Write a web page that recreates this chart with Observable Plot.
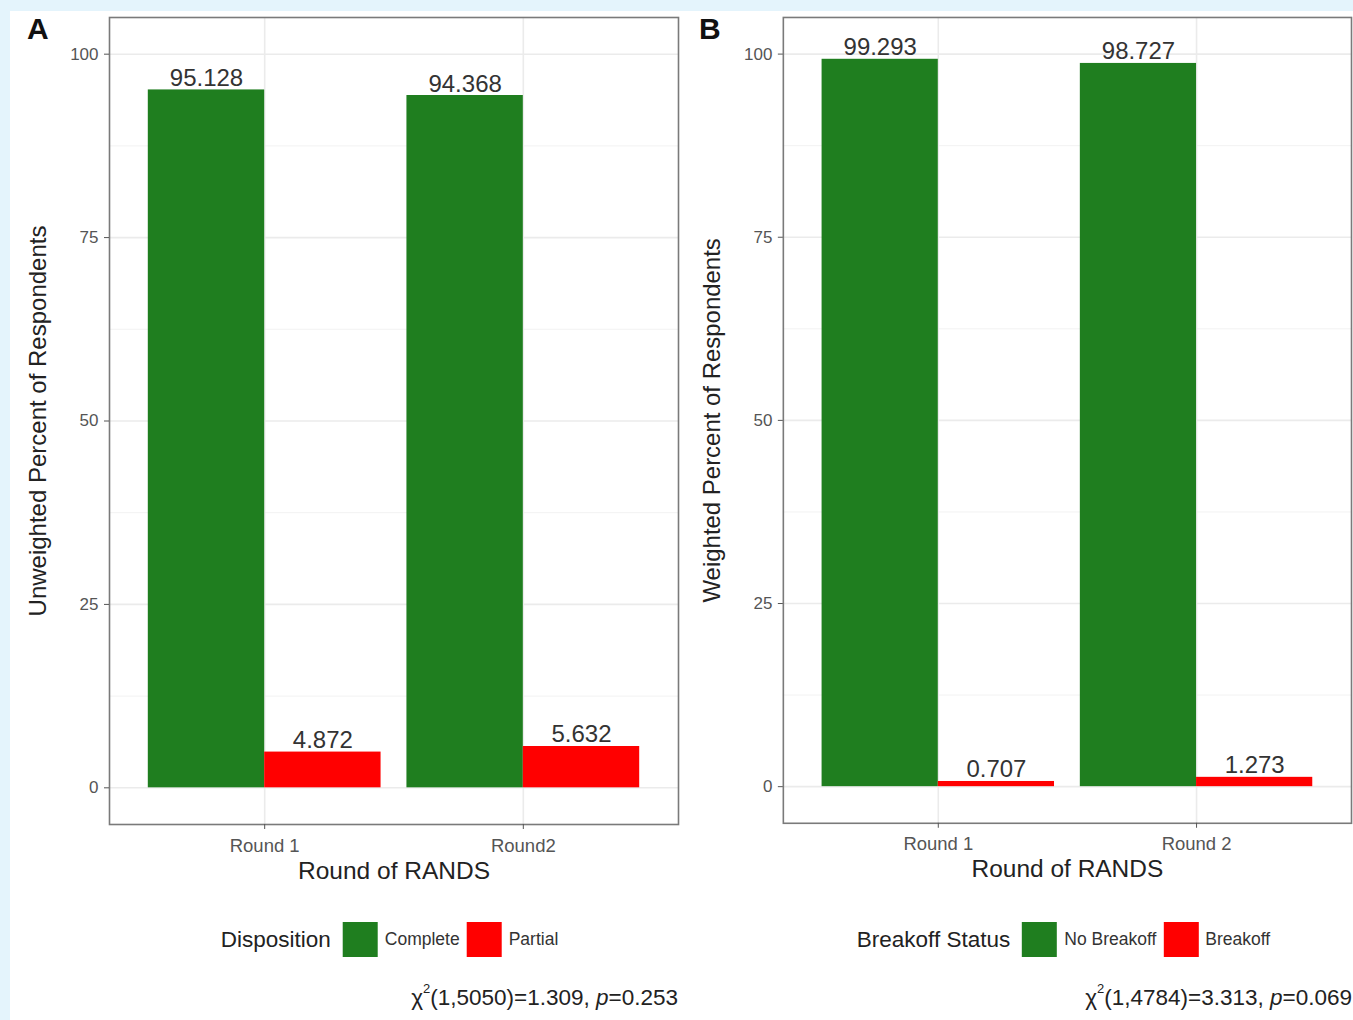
<!DOCTYPE html>
<html>
<head>
<meta charset="utf-8">
<script src="https://cdn.jsdelivr.net/npm/d3@7"></script>
<script src="https://cdn.jsdelivr.net/npm/@observablehq/plot@0.6"></script>
<style>
  html, body { margin: 0; padding: 0; }
  body { width: 1353px; height: 1020px; background: #e4f4fc; position: relative; overflow: hidden;
         font-family: "Liberation Sans", Arial, Helvetica, sans-serif; }
  #sheet { position: absolute; left: 10px; top: 11px; right: 0; bottom: 0; background: #ffffff; }
  .panel { position: absolute; top: 0; }
  .tag { position: absolute; top: 12px; font-size: 30px; font-weight: bold; color: #111; }
  .legend { position: absolute; top: 922px; display: flex; align-items: center; transform: translateX(-50%); white-space: nowrap; }
  .legend .ttl { font-size: 22.5px; color: #222; margin-right: 12px; }
  .legend .key { width: 35px; height: 35px; margin-right: 7px; }
  .legend .lab { font-size: 17.5px; color: #333; margin-right: 7px; }
  .note { position: absolute; top: 984px; font-size: 22.5px; color: #222; transform: translateX(-100%); white-space: nowrap; }
  .note sup { font-size: 13px; position: relative; top: -3px; }
</style>
</head>
<body>
<div id="sheet"></div>
<div id="root"></div>
<script>
// ---------- data ----------
const roundsA = ["Round 1", "Round2"];
const seriesA = ["Complete", "Partial"];
const completeA = [95.128, 94.368];
const partialA = [4.872, 5.632];

const roundsB = ["Round 1", "Round 2"];
const seriesB = ["No Breakoff", "Breakoff"];
const noBreakoffB = [99.293, 98.727];
const breakoffB = [0.707, 1.273];

const yTicks = [0, 25, 50, 75, 100];
const yMinor = [12.5, 37.5, 62.5, 87.5];

const GREEN = "#1f7e1f";
const RED = "#ff0000";
const FONT = "'Liberation Sans', Arial, Helvetica, sans-serif";

function rowsFor(rounds, series, valuesBySeries) {
  const rows = [];
  rounds.forEach((r, i) => {
    series.forEach((s, k) => {
      rows.push({round: r, pos: i + 1, k, series: s, value: valuesBySeries[k][i]});
    });
  });
  return rows;
}

const dodge = 0.9;

function panel(rounds, series, rows, yTitle, xTitle) {
  return Plot.plot({
    width: 680,
    height: 890,
    marginLeft: 109,
    marginRight: 2,
    marginTop: 17,
    marginBottom: 66,
    style: {fontFamily: FONT, background: "transparent", overflow: "visible"},
    x: {type: "linear", domain: [0.4, rounds.length + 0.6], label: null},
    y: {domain: [-5, 105], label: null},
    color: {domain: series, range: [GREEN, RED]},
    marks: [
      Plot.ruleY(yMinor, {stroke: "#f2f2f2", strokeWidth: 1}),
      Plot.ruleY(yTicks, {stroke: "#ebebeb", strokeWidth: 1.6}),
      Plot.ruleX(rounds.map((r, i) => i + 1), {stroke: "#ebebeb", strokeWidth: 1.6}),
      Plot.rectY(rows, {
        x1: d => d.pos - dodge / 2 + d.k * dodge / series.length,
        x2: d => d.pos - dodge / 2 + (d.k + 1) * dodge / series.length,
        y1: 0,
        y2: "value",
        fill: "series"
      }),
      Plot.text(rows, {
        x: d => d.pos - dodge / 2 + (d.k + 0.5) * dodge / series.length,
        y: "value",
        text: d => d3.format(".3f")(d.value),
        lineAnchor: "bottom",
        dy: -4,
        fontSize: 24,
        fill: "#333"
      }),
      Plot.frame({stroke: "#7a7a7a", strokeWidth: 1.6}),
      Plot.axisY({ticks: yTicks, tickSize: 5, tickPadding: 6, fontSize: 17, color: "#555", label: null}),
      Plot.axisX({ticks: rounds.map((r, i) => i + 1), tickFormat: v => rounds[v - 1], tickSize: 5, tickPadding: 9, fontSize: 18.5, color: "#555", label: null}),
      Plot.text([xTitle], {frameAnchor: "bottom", dy: 54, fontSize: 24.5, fill: "#222"}),
      Plot.text([yTitle], {frameAnchor: "left", textAnchor: "middle", dx: -71, rotate: -90, fontSize: 24, fill: "#222"})
    ]
  });
}

const root = document.getElementById("root");

function place(node, left) {
  const d = document.createElement("div");
  d.className = "panel";
  d.style.left = left + "px";
  d.appendChild(node);
  root.appendChild(d);
}

const rowsA = rowsFor(roundsA, seriesA, [completeA, partialA]);
const rowsB = rowsFor(roundsB, seriesB, [noBreakoffB, breakoffB]);

place(panel(roundsA, seriesA, rowsA, "Unweighted Percent of Respondents", "Round of RANDS"), 0);
place(panel(roundsB, seriesB, rowsB, "Weighted Percent of Respondents", "Round of RANDS"), 674);

function tag(text, left) {
  const t = document.createElement("div");
  t.className = "tag";
  t.style.left = left + "px";
  t.textContent = text;
  root.appendChild(t);
}
tag("A", 27);
tag("B", 699);

function legend(title, series, colors, center) {
  const l = document.createElement("div");
  l.className = "legend";
  l.style.left = center + "px";
  const t = document.createElement("span");
  t.className = "ttl";
  t.textContent = title;
  l.appendChild(t);
  series.forEach((s, i) => {
    const k = document.createElement("span");
    k.className = "key";
    k.style.background = colors[i];
    l.appendChild(k);
    const lab = document.createElement("span");
    lab.className = "lab";
    lab.textContent = s;
    l.appendChild(lab);
  });
  root.appendChild(l);
}
legend("Disposition", seriesA, [GREEN, RED], 393);
legend("Breakoff Status", seriesB, [GREEN, RED], 1067);

function note(html, right) {
  const n = document.createElement("div");
  n.className = "note";
  n.style.left = right + "px";
  n.innerHTML = html;
  root.appendChild(n);
}
note("χ<sup>2</sup>(1,5050)=1.309, <i>p</i>=0.253", 678);
note("χ<sup>2</sup>(1,4784)=3.313, <i>p</i>=0.069", 1352);
</script>
</body>
</html>
